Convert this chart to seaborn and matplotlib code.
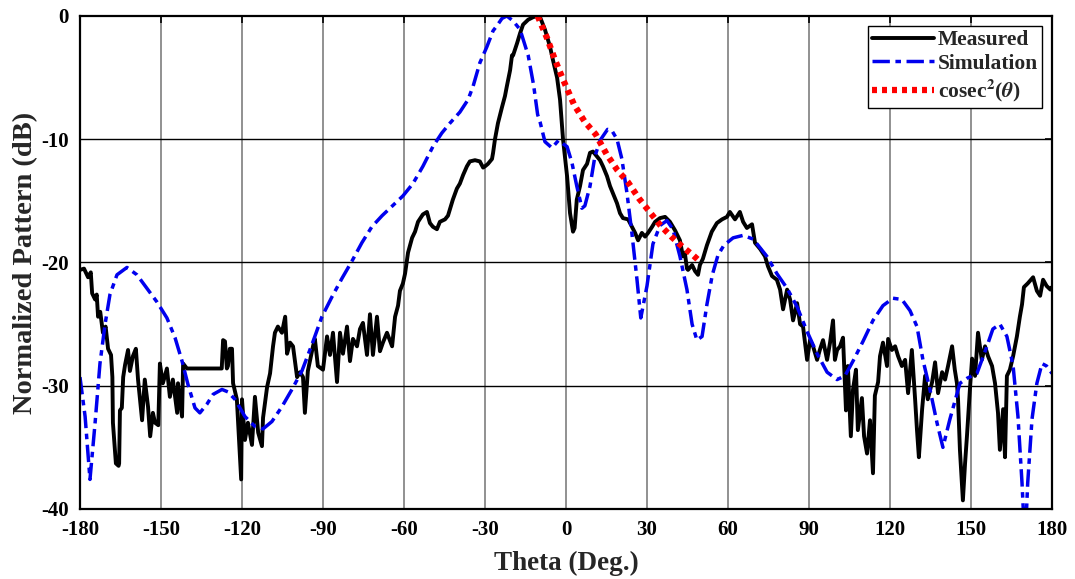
import numpy as np
import pandas as pd
import matplotlib
matplotlib.use("Agg")
import matplotlib.pyplot as plt
import seaborn as sns

# measured pattern (theta in deg, level in dB)
meas_theta = [-180, -178.5, -177, -176, -175.5, -174.4, -173.8, -173.3, -172.5, -171.5,
              -170.5, -169.6, -168.5, -168, -167.8, -166.7, -165.7, -165.5, -165.2, -164.5,
              -164, -163.3, -162.2, -161.5, -160.4, -159.3, -158.5, -157, -156, -154.8,
              -154, -153, -152.2, -151, -150.4, -149.3, -147.8, -146.7, -145.6, -144,
              -143.7, -142.2, -141.8, -140.4, -127.5, -127, -126.3, -125.6, -125.2, -124.5,
              -123.7, -123.3, -121.9, -120.7, -120.3, -120, -118.9, -117.8, -116.3, -115.2,
              -114, -112.6, -112.2, -110.7, -109.6, -108.5, -107.8, -106.7, -105.2, -104,
              -103.3, -102.2, -101.1, -99.6, -98.5, -97.4, -96.7, -95.6, -93.7, -93,
              -91.9, -90, -88.5, -87.4, -86.3, -84.8, -83.7, -82.6, -81.1, -80,
              -78.9, -77.4, -76.3, -75.2, -73.7, -72.6, -71.5, -70, -68.9, -67.8,
              -66.3, -64.4, -63.3, -62.2, -61.5, -60.4, -59.6, -58.9, -58.5, -57,
              -55.9, -54.8, -53, -51.5, -50.4, -49.3, -47.8, -46.7, -44.8, -43.7,
              -43, -41.9, -40.4, -39.3, -38.1, -36.7, -35.6, -33.7, -31.9, -30.7,
              -30, -28.9, -27.4, -27, -26.3, -25.2, -23.7, -22.6, -21.9, -20.7,
              -20, -19.6, -18.1, -17, -15.9, -14, -12.2, -10.7, -9.6, -7.8,
              -5.9, -4.8, -3.3, -2.2, -1.1, 0.4, 1.5, 2.6, 3.2, 4,
              5.2, 6.3, 7.8, 8.9, 10, 11.5, 12.6, 13.7, 15.2, 16.3,
              17.4, 18.9, 20, 21.1, 23, 24.4, 25.6, 26.7, 28.1, 29.3,
              30.4, 31.9, 33, 34.8, 36.7, 38.5, 40.4, 42.2, 43.3, 44,
              44.8, 45.2, 46.7, 47.8, 48.9, 49.6, 50.7, 52.2, 54, 55.9,
              57.8, 59.6, 60.7, 62.6, 64.4, 65.6, 67, 68.9, 70, 71.9,
              73.7, 74.8, 76.3, 78.1, 79.3, 80.4, 81.9, 83, 84.1, 85.6,
              86.7, 87.8, 89.3, 90.4, 91.5, 93, 94, 95.2, 96.7, 97.8,
              98.9, 99.6, 100.4, 101.5, 102.6, 103.7, 104.4, 105.5, 106.3, 107.4,
              108.1, 109.6, 110.4, 111.5, 112.6, 113.7, 114.4, 115.6, 116.3, 117.4,
              118.9, 119.3, 120.7, 121.9, 123, 124.4, 125.6, 126.7, 128.1, 129.3,
              130, 130.7, 131.9, 133, 134, 135.6, 136.7, 137.8, 139.3, 140.4,
              141.5, 143, 144, 144.8, 145.2, 145.9, 147, 147.8, 148.5, 149.6,
              150.4, 151.5, 152.6, 154, 155.2, 156.3, 157.8, 158.9, 160, 160.7,
              161.9, 162.6, 163.3, 164.4, 165.6, 167, 168.1, 168.9, 169.6, 171,
              173, 174.4, 175.6, 176.7, 178, 179.4, 180]
meas_db = [-20.6, -20.5, -21.2, -20.8, -22.5, -23, -22.6, -24.4, -24, -25.7,
           -25.2, -27, -27.5, -29.3, -33, -36.3, -36.5, -36.3, -32, -31.8,
           -29.3, -28.3, -27.1, -28.8, -27.6, -27, -29.5, -32.8, -29.5, -31.7,
           -34.1, -32.2, -33, -33.2, -28.2, -29.8, -28.6, -30.9, -29.5, -32.2,
           -29.8, -32.5, -28.2, -28.6, -28.6, -26.3, -26.4, -28.6, -28.4, -27,
           -27, -29.8, -31.1, -36, -37.6, -31.1, -34.4, -33, -34.8, -30.9,
           -33.8, -34.9, -32.6, -30.1, -29, -26.8, -25.7, -25.2, -25.7, -24.4,
           -27.4, -26.5, -26.8, -29.3, -28.9, -29.3, -32.2, -28.8, -26.8, -26.2,
           -28.4, -28.7, -26, -27.5, -25.7, -29.7, -25.7, -27.4, -25.2, -28,
           -26.2, -26.8, -25.4, -24.9, -27.5, -24.2, -27.5, -24.4, -27.2, -26.5,
           -25.7, -26.8, -24.4, -23.5, -22.3, -21.7, -20.9, -19.8, -19.2, -18,
           -17.5, -16.7, -16.1, -15.9, -16.8, -17.1, -17.3, -16.7, -16.5, -16.2,
           -15.7, -14.9, -14.0, -13.6, -12.9, -12.2, -11.8, -11.7, -11.8, -12.3,
           -12.2, -12, -11.6, -11.1, -10, -8.7, -7.4, -6.5, -5.7, -4.4,
           -3.2, -3.2, -2.2, -1.4, -0.7, -0.3, -0.1, 0, -0.1, -1.1,
           -2.5, -3.6, -5, -6.8, -10, -13, -16, -17.5, -17.2, -14.9,
           -13.8, -12.5, -12, -11.1, -11, -11.4, -11.7, -12.2, -13, -13.8,
           -14.4, -15.2, -16, -16.4, -16.5, -17.1, -17.6, -18.2, -17.6, -17.9,
           -17.6, -17.1, -16.7, -16.4, -16.3, -16.7, -17.4, -18.2, -19.5, -19.2,
           -20.5, -20.6, -20.2, -20.7, -21, -20.2, -19.7, -18.6, -17.5, -16.8,
           -16.5, -16.3, -15.9, -16.5, -15.9, -16.7, -17.2, -16.9, -18.4, -18.9,
           -19.5, -20.3, -21.1, -21.4, -22.2, -23.8, -22.2, -23, -24.7, -23.3,
           -25, -25.2, -27.9, -26.3, -26.8, -27.9, -27.1, -26.3, -27.9, -26.5,
           -24.7, -27.9, -27.1, -26.8, -26.1, -32, -28.4, -34.1, -30.3, -28.7,
           -33.6, -31, -34.1, -35.5, -32.8, -37.1, -30.8, -29.7, -27.6, -26.5,
           -28.4, -26.2, -27.1, -26.8, -27.6, -28.4, -27.9, -30.6, -27.1, -31.1,
           -33.6, -35.8, -31.9, -29.2, -31.1, -29.7, -28.1, -30.6, -28.9, -29.5,
           -28.4, -26.8, -28.7, -29.8, -31.1, -35.2, -39.3, -36.3, -34.1, -30.3,
           -27.8, -29.2, -25.7, -27.9, -26.8, -27.6, -28.4, -29.8, -32.2, -35.2,
           -31.9, -35.8, -29.2, -28.7, -27.6, -26, -24.4, -23.4, -22, -21.7,
           -21.2, -22.3, -22.7, -21.4, -21.9, -22.2, -22]

# simulated pattern
sim_theta = [-180, -178.1, -176.3, -174.4, -172.6, -170.7, -168.9, -166.3, -162.6, -158.9,
             -155.2, -151.5, -147.8, -144.8, -142.2, -140, -137.4, -135.6, -133, -130.7,
             -127.4, -125.2, -122.6, -118.9, -115.2, -112.2, -108.9, -105.2, -101.5, -97.8,
             -94, -90.4, -86.7, -83, -79.3, -75.6, -71.9, -68.1, -65.2, -60.4,
             -56.7, -53, -49.3, -46, -43, -39.3, -36.3, -34.4, -31.9, -29.3,
             -27, -25.6, -23.7, -21.9, -19.6, -17, -14, -12, -10.5, -9.6,
             -7.8, -5.2, -2.8, 0.4, 2.2, 4, 5.9, 7, 8.9, 10.7,
             12.6, 15.4, 17, 18.9, 20.7, 22.6, 24.4, 26.3, 27.7, 30,
             32.2, 34.8, 37.4, 39.6, 42.2, 44.8, 46.7, 48.5, 50.4, 52.2,
             54.2, 56.3, 58.5, 61.9, 65.6, 69.3, 74.4, 78.1, 81.9, 85.6,
             89.3, 93, 96.7, 100.4, 103.3, 106.3, 110, 113.7, 117.4, 121.1,
             124.4, 127.4, 130, 132.2, 134.8, 137.4, 139.6, 142.2, 145.9, 148.5,
             152.2, 155.9, 158.1, 160.7, 163.3, 165.6, 167.4, 168.9, 170, 171,
             172.6, 174.4, 176.3, 178, 180]
sim_db = [-29.3, -32.5, -37.6, -33, -28.2, -25, -22.6, -21, -20.4, -21,
          -22.1, -23.2, -24.5, -26.1, -28, -29.9, -31.8, -32.2, -31.5, -30.7,
          -30.3, -30.5, -31.1, -32.5, -33.3, -33.5, -32.9, -31.7, -30.3, -28.8,
          -26.6, -24.4, -22.8, -21.3, -19.9, -18.4, -17.1, -16.2, -15.6, -14.6,
          -13.6, -12.2, -10.6, -9.5, -8.7, -7.8, -6.8, -5.7, -3.8, -2.5,
          -1.2, -0.8, -0.2, 0, -0.4, -1.1, -3.2, -5.6, -8, -8.6,
          -10.2, -10.7, -10.1, -10.6, -11.9, -13.8, -15.6, -15.4, -13.8, -11.4,
          -10.1, -9.2, -9.3, -10, -11.6, -14.4, -17.6, -21.4, -24.5, -21.9,
          -18.5, -17, -16.6, -17.3, -19.5, -22.2, -25, -26.3, -26, -23.4,
          -21, -19.4, -18.6, -18, -17.8, -18.1, -19.5, -20.9, -22.1, -23.6,
          -25.6, -27.4, -28.9, -29.5, -29.2, -28, -26.4, -24.7, -23.5, -22.9,
          -23, -23.9, -25.2, -27.9, -30.3, -33, -35, -32.7, -29.8, -29.4,
          -29, -26.8, -25.4, -25, -26, -28.4, -32.5, -37.9, -43, -37.9,
          -32.7, -29.8, -28.2, -28.4, -29]

# cosec^2 template
cosec_theta = [-10.5, -7, -4, -1, 3, 7, 11, 15, 19, 23, 27, 31, 35, 39, 43, 47, 50]
cosec_db = [0, -1.8, -3.6, -5.2, -7.2, -8.6, -9.6, -11.2, -12.5, -13.5,
            -14.8, -15.9, -17.0, -17.9, -18.7, -19.4, -20.0]

sns.set_theme(style="white")
plt.rcParams["font.family"] = ["Liberation Serif", "DejaVu Serif"]
plt.rcParams["font.weight"] = "bold"
plt.rcParams["mathtext.fontset"] = "stix"
plt.rcParams["axes.unicode_minus"] = False

fig = plt.figure(figsize=(10.75, 5.79), dpi=100)
ax = fig.add_axes([0.0744, 0.1209, 0.9042, 0.8515])

for xv in range(-150, 180, 30):
    ax.axvline(xv, color="0.45", lw=1.1, zorder=0)
for yv in range(-30, 0, 10):
    ax.axhline(yv, color="black", lw=1.0, zorder=0)

sns.lineplot(x=meas_theta, y=meas_db, ax=ax, color="black", lw=2.8,
             estimator=None, sort=False, label="Measured")
sns.lineplot(x=sim_theta, y=sim_db, ax=ax, color="#0000ee", lw=2.5,
             estimator=None, sort=False, label="Simulation",
             linestyle=(0, (5, 1.6, 1.6, 1.6)))
sns.lineplot(x=cosec_theta, y=cosec_db, ax=ax, color="#ff0000", lw=4.5,
             estimator=None, sort=False,
             label=r"cosec$^{\mathbf{2}}$($\theta$)",
             linestyle=(0, (0.8, 0.8)))

ax.set_xlim(-180, 180)
ax.set_ylim(-40, 0)
ax.set_xticks(range(-180, 181, 30))
ax.set_yticks(range(-40, 1, 10))
ax.tick_params(direction="in", top=True, right=True, length=5, width=1.2,
               labelsize=15, colors="black", pad=8)
for lab in ax.get_xticklabels() + ax.get_yticklabels():
    lab.set_fontweight("bold")
for sp in ax.spines.values():
    sp.set_color("black")
    sp.set_linewidth(1.6)

ax.set_xlabel("Theta (Deg.)", fontsize=19.5, fontweight="bold", labelpad=8)
ax.set_ylabel("Normalized Pattern (dB)", fontsize=20.5, fontweight="bold", labelpad=2)

leg = ax.legend(loc="upper right", bbox_to_anchor=(0.99, 0.98),
                handlelength=2.9, handletextpad=0.15, borderpad=0.2,
                labelspacing=0.15, borderaxespad=0.0, fancybox=False,
                framealpha=1, edgecolor="black", prop={"weight": "bold", "size": 15.5})
leg.get_frame().set_linewidth(1.0)

fig.savefig("out.png", dpi=100)
